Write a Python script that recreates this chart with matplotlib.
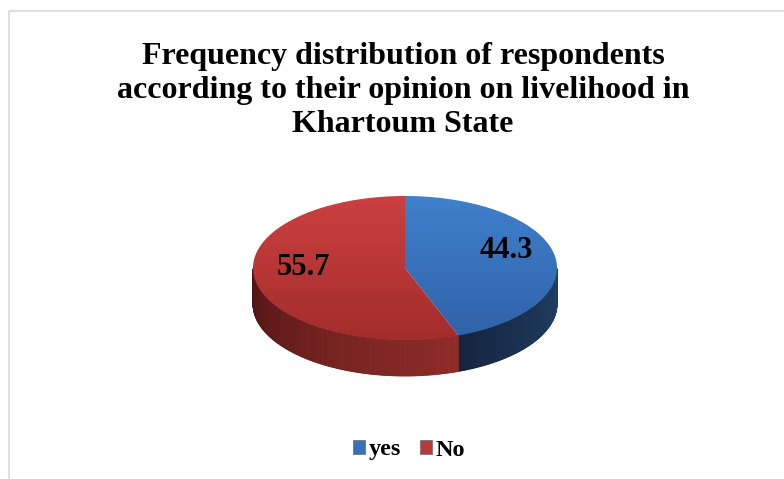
import numpy as np
import matplotlib.pyplot as plt
from matplotlib.patches import Polygon, Rectangle
from matplotlib.colors import LinearSegmentedColormap, to_rgb

# data
categories = ["yes", "No"]
values = [44.3, 55.7]
top_colors = [("#4080cc", "#2f62a8"), ("#cc4040", "#a32d2c")]
side_colors = [("#223f66", "#14243d"), ("#8e2a26", "#4a1414")]
legend_colors = ["#3a70b8", "#b83a38"]

title = "Frequency distribution of respondents\naccording to their opinion on livelihood in\nKhartoum State"

W, H = 784, 479
fig = plt.figure(figsize=(W / 100, H / 100), dpi=100)
ax = fig.add_axes([0, 0, 1, 1])
ax.set_xlim(0, W)
ax.set_ylim(H, 0)
ax.axis("off")

serif = "Liberation Serif"

# chart border
ax.add_patch(Rectangle((9.5, 10.5), W, H, fill=False, edgecolor="#d9d9d9", lw=1.2))

ax.text(W / 2 + 11, 42, title, ha="center", va="top", fontsize=23, fontweight="bold",
        family=serif, linespacing=1.22)

# pie geometry
cx, cy = 405, 268
rx, ry = 152, 72
depth = 36


def pt(a):
    return cx + rx * np.cos(a), cy - ry * np.sin(a)


fracs = np.array(values) / sum(values)
starts = np.pi / 2 - np.concatenate([[0], np.cumsum(fracs)[:-1]]) * 2 * np.pi
ends = starts - fracs * 2 * np.pi


def mix(c1, c2, t):
    a = np.array(to_rgb(c1))
    b = np.array(to_rgb(c2))
    return a + (b - a) * t


# side walls (front half only)
for i in range(len(values)):
    angs = np.linspace(ends[i], starts[i], 400)
    angs = angs[np.sin(angs) <= 0.0001]
    if len(angs) < 2:
        continue
    for k in range(len(angs) - 1):
        t = (angs[k] - angs.min()) / (angs.max() - angs.min() + 1e-9)
        col = mix(side_colors[i][1], side_colors[i][0], t ** 0.8)
        x0, y0 = pt(angs[k])
        x1, y1 = pt(angs[k + 1])
        ax.add_patch(Polygon([(x0, y0), (x1, y1), (x1, y1 + depth), (x0, y0 + depth)],
                             closed=True, facecolor=col, edgecolor=col, lw=0.6))

# top faces with vertical gradient
yy = np.linspace(0, 1, 256).reshape(-1, 1)
for i in range(len(values)):
    angs = np.linspace(starts[i], ends[i], 300)
    xs, ys = pt(angs)
    poly = Polygon(np.column_stack([np.r_[cx, xs], np.r_[cy, ys]]), closed=True,
                   facecolor="none", edgecolor="none")
    ax.add_patch(poly)
    cmap = LinearSegmentedColormap.from_list("g%d" % i, list(top_colors[i]))
    im = ax.imshow(yy, cmap=cmap, extent=(cx - rx, cx + rx, cy + ry, cy - ry),
                   aspect="auto", interpolation="bilinear", zorder=2)
    im.set_clip_path(poly)

# data labels
for i in range(len(values)):
    mid = (starts[i] + ends[i]) / 2
    lx = cx + rx * 0.68 * np.cos(mid)
    ly = cy - ry * 0.68 * np.sin(mid) - 9
    ax.text(lx, ly, f"{values[i]:.1f}", ha="center", va="center", fontsize=22,
            fontweight="bold", family=serif, zorder=5)

# legend
handles = [Rectangle((0, 0), 1, 1, facecolor=c, edgecolor="#555555", lw=0.4) for c in legend_colors]
fig.legend(handles, categories, loc="center", bbox_to_anchor=(409 / W, 1 - 450 / H), ncol=2,
           frameon=False, prop={"family": serif, "weight": "bold", "size": 17.5},
           handlelength=0.5, handleheight=0.5, handletextpad=0.15, columnspacing=0.8)

fig.savefig("out.png", dpi=100)
